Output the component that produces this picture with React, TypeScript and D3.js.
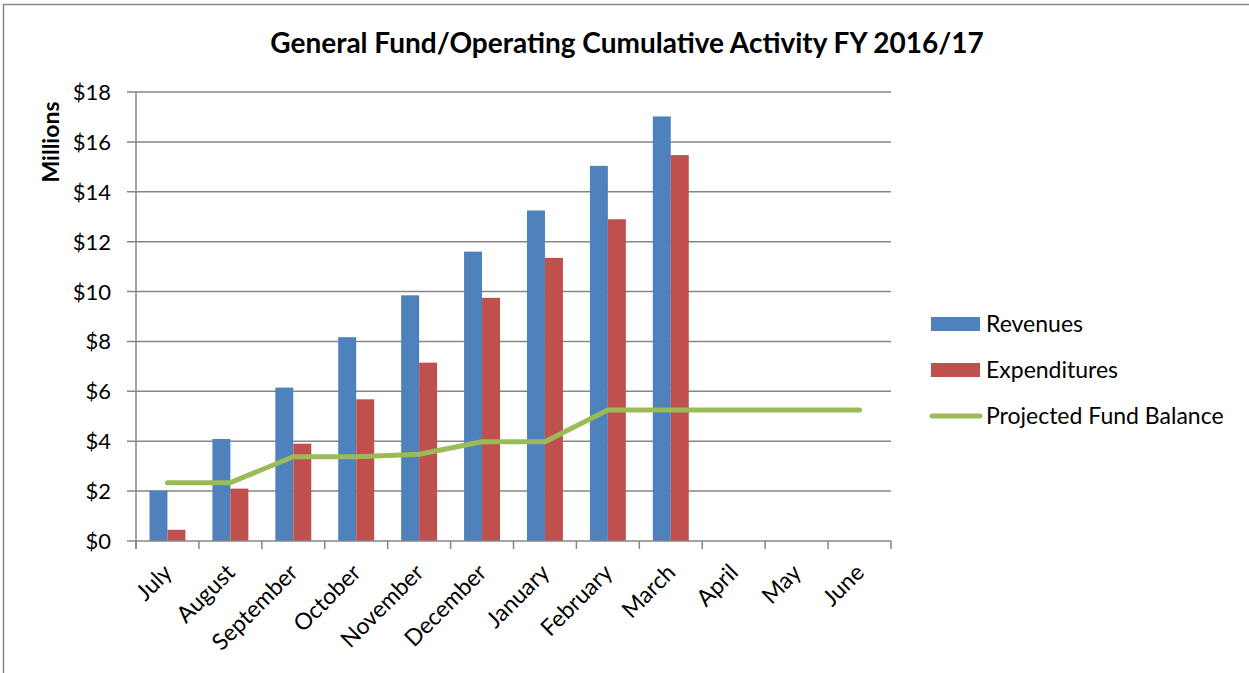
import React, { useEffect, useRef } from "react";
import * as d3 from "d3";

const months = ["July", "August", "September", "October", "November", "December", "January", "February", "March", "April", "May", "June"];
const revenues = [2.02, 4.09, 6.15, 8.17, 9.85, 11.6, 13.25, 15.04, 17.02, null, null, null];
const expenditures = [0.45, 2.1, 3.9, 5.68, 7.15, 9.75, 11.35, 12.9, 15.47, null, null, null];
const fundBalance = [2.34, 2.34, 3.38, 3.38, 3.48, 3.98, 3.98, 5.25, 5.25, 5.25, 5.25, 5.25];
const yTicks = [0, 2, 4, 6, 8, 10, 12, 14, 16, 18];

const FONT = "Lato, 'Open Sans', sans-serif";

const App = () => {
  const svgRef = useRef<SVGSVGElement>(null);

  useEffect(() => {
    const svg = d3.select(svgRef.current);
    svg.selectAll("*").remove();

    const left = 136;
    const right = 891;
    const top = 92;
    const bottom = 541;

    const x = d3.scaleBand().domain(months).range([left, right]);
    const y = d3.scaleLinear().domain([0, 18]).range([bottom, top]);
    const barW = x.bandwidth() / 3.5;
    const grid = "#868686";

    // chart border
    svg.append("rect")
      .attr("x", 3.5).attr("y", 4.5).attr("width", 1260).attr("height", 700)
      .attr("fill", "none").attr("stroke", grid).attr("stroke-width", 1.5);

    svg.append("text")
      .attr("x", 627).attr("y", 53)
      .attr("text-anchor", "middle")
      .style("font-family", FONT).style("font-weight", "bold").style("font-size", "28px")
      .text("General Fund/Operating Cumulative Activity FY 2016/17");

    // gridlines
    svg.append("g").selectAll("line").data(yTicks.filter((d) => d > 0)).enter().append("line")
      .attr("x1", left - 9).attr("x2", right)
      .attr("y1", (d) => y(d)).attr("y2", (d) => y(d))
      .attr("stroke", grid).attr("stroke-width", 1.5);

    svg.append("g").selectAll("text").data(yTicks).enter().append("text")
      .attr("x", 111).attr("y", (d) => y(d) + 8)
      .attr("text-anchor", "end")
      .style("font-family", FONT).style("font-size", "22px")
      .text((d) => "$" + d);

    svg.append("text")
      .attr("transform", "translate(59,142) rotate(-90)")
      .attr("text-anchor", "middle")
      .style("font-family", FONT).style("font-weight", "bold").style("font-size", "23px")
      .text("Millions");

    // bars
    const bars = [
      { vals: revenues, color: "#4F81BD", off: 0 },
      { vals: expenditures, color: "#C0504D", off: 1 },
    ];
    bars.forEach((s) => {
      svg.append("g").selectAll("rect")
        .data(months.map((m, i) => ({ m, v: s.vals[i] })).filter((d) => d.v !== null))
        .enter().append("rect")
        .attr("x", (d) => (x(d.m) as number) + barW * 0.75 + s.off * barW)
        .attr("y", (d) => y(d.v as number))
        .attr("width", barW)
        .attr("height", (d) => bottom - y(d.v as number))
        .attr("fill", s.color);
    });

    // axes lines
    svg.append("line").attr("x1", left).attr("x2", left).attr("y1", top).attr("y2", bottom + 8)
      .attr("stroke", grid).attr("stroke-width", 1.5);
    svg.append("line").attr("x1", left - 9).attr("x2", right).attr("y1", bottom).attr("y2", bottom)
      .attr("stroke", grid).attr("stroke-width", 1.5);
    svg.append("g").selectAll("line").data(d3.range(months.length + 1)).enter().append("line")
      .attr("x1", (i) => left + i * x.step()).attr("x2", (i) => left + i * x.step())
      .attr("y1", bottom).attr("y2", bottom + 8)
      .attr("stroke", grid).attr("stroke-width", 1.5);

    // line
    const line = d3.line<number>()
      .x((_, i) => (x(months[i]) as number) + x.bandwidth() / 2)
      .y((d) => y(d));
    svg.append("path").datum(fundBalance)
      .attr("d", line)
      .attr("fill", "none").attr("stroke", "#9BBB59").attr("stroke-width", 5)
      .attr("stroke-linecap", "round").attr("stroke-linejoin", "round");

    // x labels
    svg.append("g").selectAll("text").data(months).enter().append("text")
      .attr("transform", (d) => `translate(${(x(d) as number) + x.bandwidth() / 2 + 6},${bottom + 33}) rotate(-45)`)
      .attr("text-anchor", "end")
      .style("font-family", FONT).style("font-size", "23px")
      .text((d) => d);

    // legend
    const legend = [
      { name: "Revenues", color: "#4F81BD", type: "bar" },
      { name: "Expenditures", color: "#C0504D", type: "bar" },
      { name: "Projected Fund Balance", color: "#9BBB59", type: "line" },
    ];
    const lg = svg.append("g").selectAll("g").data(legend).enter().append("g")
      .attr("transform", (_, i) => `translate(931,${324 + i * 46})`);
    lg.filter((d) => d.type === "bar").append("rect")
      .attr("x", 0).attr("y", -7).attr("width", 49).attr("height", 14).attr("fill", (d) => d.color);
    lg.filter((d) => d.type === "line").append("line")
      .attr("x1", 1).attr("x2", 49).attr("y1", 0).attr("y2", 0)
      .attr("stroke", (d) => d.color).attr("stroke-width", 5).attr("stroke-linecap", "round");
    lg.append("text")
      .attr("x", 55).attr("y", 8)
      .style("font-family", FONT).style("font-size", "23px")
      .text((d) => d.name);
  }, []);

  return (
    <svg
      ref={svgRef}
      width={1249}
      height={673}
      style={{ position: "absolute", left: 0, top: 0, background: "#fff" }}
    />
  );
};

export default App;
